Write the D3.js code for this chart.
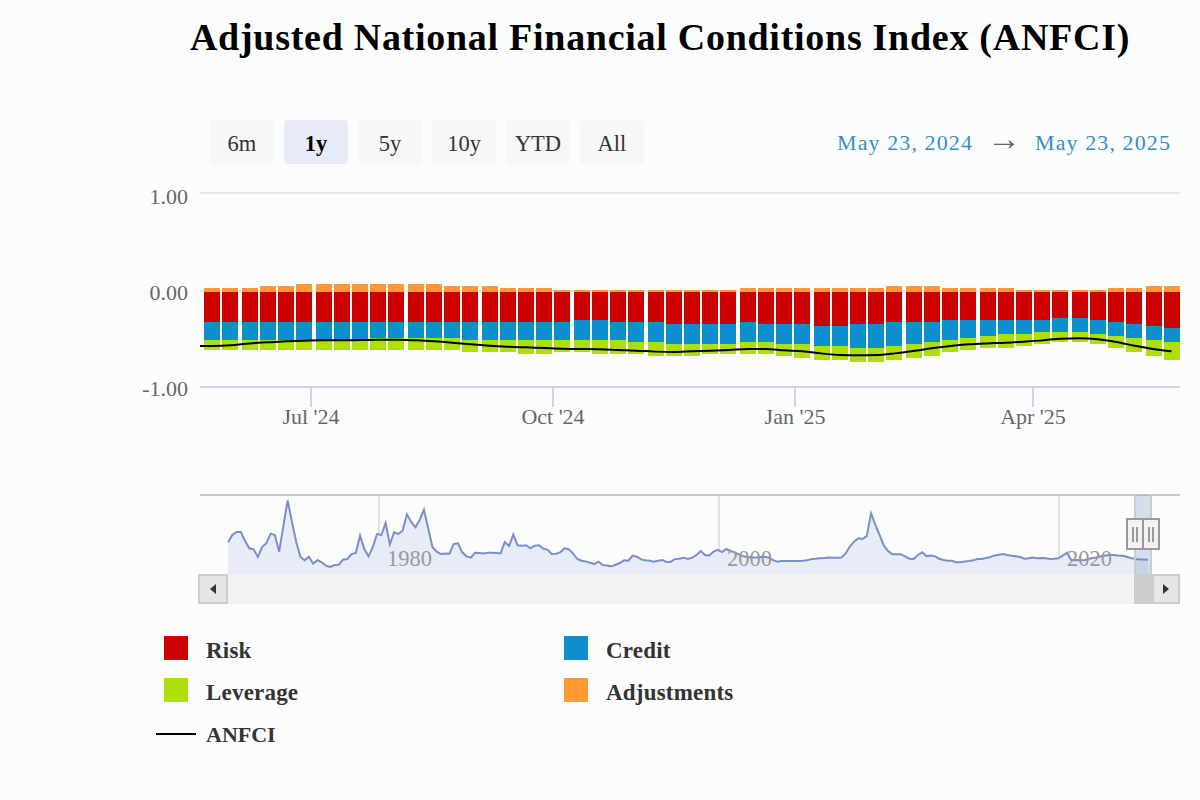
<!DOCTYPE html>
<html><head><meta charset="utf-8">
<style>
html,body{margin:0;padding:0;background:#fbfdfc;}
svg{display:block;font-family:"Liberation Serif",serif;}
</style>
<script src="https://cdn.jsdelivr.net/npm/d3@7/dist/d3.min.js"></script>
</head><body>
<svg id="c" width="1200" height="800"></svg>
<script>
const title = "Adjusted National Financial Conditions Index (ANFCI)";
const rangeButtons = ["6m","1y","5y","10y","YTD","All"];
const selectedButton = "1y";
const rangeFrom = "May 23, 2024", rangeTo = "May 23, 2025";
const firstWeek = "2024-05-24";
const seriesNames = ["Risk","Credit","Leverage","Adjustments"];
const seriesColors = ["#cc0000","#0d8ecf","#b0de09","#ff9933"];
const yTicks = [1,0,-1];
const yTickLabels = ["1.00","0.00","-1.00"];
const xTickDates = ["2024-07-01","2024-10-01","2025-01-01","2025-04-01"];
const xTickLabels = ["Jul '24","Oct '24","Jan '25","Apr '25"];
const navTickYears = [1980,2000,2020];

const risk = [-.309,-.309,-.309,-.309,-.309,-.309,-.309,-.309,-.309,-.309,-.309,-.309,-.309,-.309,-.309,-.309,-.309,-.309,-.309,-.309,
 -.289,-.289,-.309,-.309,-.309,-.33,-.33,-.33,-.33,-.309,-.33,-.33,-.33,-.351,-.351,-.33,-.33,-.309,-.309,-.309,
 -.289,-.289,-.289,-.289,-.289,-.289,-.268,-.268,-.289,-.309,-.33,-.351,-.371];
const credit = [-.186,-.186,-.186,-.186,-.186,-.186,-.186,-.186,-.186,-.165,-.165,-.165,-.165,-.165,-.186,-.186,-.186,-.186,-.186,-.186,
 -.206,-.206,-.186,-.206,-.206,-.206,-.206,-.206,-.206,-.206,-.186,-.206,-.206,-.206,-.206,-.247,-.247,-.247,-.227,-.206,
 -.206,-.186,-.165,-.144,-.144,-.124,-.144,-.144,-.144,-.144,-.144,-.144,-.144];
const leverage = [-.103,-.103,-.103,-.103,-.103,-.103,-.103,-.103,-.103,-.124,-.124,-.124,-.124,-.124,-.124,-.124,-.124,-.144,-.144,-.124,
 -.124,-.144,-.144,-.124,-.144,-.124,-.124,-.103,-.103,-.124,-.124,-.124,-.144,-.144,-.144,-.144,-.144,-.144,-.144,-.144,
 -.124,-.124,-.124,-.144,-.124,-.124,-.103,-.103,-.103,-.124,-.144,-.165,-.186];
const adjustments = [.041,.041,.041,.062,.062,.082,.082,.082,.082,.082,.082,.082,.082,.062,.062,.062,.041,.041,.041,.021,
 .021,.021,.021,.021,.021,.021,.021,.021,.021,.041,.041,.041,.041,.041,.041,.041,.041,.062,.062,.062,
 .041,.041,.041,.041,.021,.021,.021,.021,.021,.041,.041,.062,.062];
const anfciBefore = -.567;
const anfci = [-.567,-.560,-.540,-.529,-.519,-.512,-.509,-.509,-.505,-.502,-.502,-.509,-.519,-.533,-.550,-.564,-.574,-.581,-.588,-.595,
 -.598,-.601,-.608,-.615,-.625,-.629,-.622,-.615,-.608,-.598,-.598,-.612,-.622,-.643,-.660,-.663,-.660,-.643,-.619,-.591,
 -.567,-.550,-.540,-.533,-.522,-.509,-.491,-.488,-.498,-.526,-.564,-.598,-.622];

const navStartYear = 1971.12, navStepYears = 0.2505;
const navValues = [.65,1.2,1.43,1.43,.75,.2,.13,-.45,.3,.58,1.3,1.2,-.05,1.88,3.8,2.2,.7,-.45,-.7,-.43,
 -.95,-.68,-.85,-1.1,-1.2,-1.05,-1.03,-.65,-.6,-.23,-.15,1.15,.15,-.4,.3,1.28,1.2,2.1,.5,1.4,
 1.28,1.53,2.75,2.2,1.78,2.33,3.1,1.7,.3,-.05,-.23,-.18,-.2,.53,.58,-.1,-.4,-.5,-.13,-.15,
 -.18,-.13,-.13,-.15,-.18,.68,.38,1.23,.43,.4,.43,.2,
 .4,.43,.18,.1,-.23,-.2,-.1,.2,.13,-.18,-.6,-.73,-.78,-.88,-.98,-.8,-1.05,-1.08,-1.15,-1.03,
 -.9,-.7,-.73,-.35,-.43,-.63,-.7,-.73,-.8,-.73,-.68,-.83,-.8,-.6,-.58,-.5,-.6,-.5,-.3,0,
 -.3,-.33,-.05,.08,-.08,.15,0,-.1,-.25,-.4,-.45,-.48,-.48,-.45,-.43,-.5,
 -.68,-.8,-.75,-.75,-.75,-.75,-.75,-.73,-.7,-.6,-.58,-.55,-.53,-.48,-.5,-.5,-.48,-.2,.33,.7,.95,
 .9,1.13,2.83,1.95,1.2,.4,0,-.25,-.25,-.25,-.4,-.58,-.6,-.3,-.1,-.38,-.33,-.4,-.58,-.68,
 -.73,-.73,-.85,-.85,-.78,-.75,-.7,-.6,-.6,-.53,-.45,-.33,-.28,-.23,-.3,-.35,-.4,-.45,-.58,-.55,
 -.48,-.55,-.53,-.55,-.6,-.58,-.55,-.35,-.13,-.7,-.68,-.7,-.7,-.6,-.53,-.48,-.4,-.33,-.3,-.3,
 -.33,-.35,-.43,-.53,-.6,-.63,-.63,-.65];

const svg = d3.select("#c");
const DAY = 864e5;
const weekDates = risk.map((_,i)=>new Date(Date.parse(firstWeek+"T00:00:00Z")+i*7*DAY));
const lineDates = [new Date(weekDates[0].getTime()-7*DAY), ...weekDates];
const lineValues = [anfciBefore, ...anfci];

const x = d3.scaleUtc().domain([new Date("2024-05-20T00:00:00Z"),new Date("2025-05-27T00:00:00Z")]).range([200,1180]);
const y = d3.scaleLinear().domain([-1,1]).range([387.2,193.2]);
const yLabel = d3.scaleLinear().domain([-1,1]).range([396.2,204.2]);
const crispOdd = v => 2*Math.round((v-1)/2)+1;
const snapEven = v => Math.ceil(v/2)*2;

// title
svg.append("text").attr("x",660).attr("y",50).attr("text-anchor","middle")
  .attr("font-size",38).attr("font-weight","bold").attr("letter-spacing",0.72).attr("fill","#000").text(title);

// range buttons
rangeButtons.forEach((b,i)=>{
  const on = b===selectedButton, bx = 210+i*74;
  svg.append("rect").attr("x",bx).attr("y",120).attr("width",64).attr("height",44).attr("rx",4)
    .attr("fill",on?"#e6ebf5":"#f7f7f7");
  svg.append("text").attr("x",bx+32).attr("y",151).attr("text-anchor","middle").attr("font-size",22.5)
    .attr("font-weight",on?"bold":"normal").attr("fill",on?"#000":"#333").text(b);
});
const dateStyle = s=>s.attr("font-size",22).attr("fill","#3490c4").attr("y",150).attr("letter-spacing",1.1);
svg.append("text").call(dateStyle).attr("x",973).attr("text-anchor","end").text(rangeFrom);
svg.append("text").attr("x",1004).attr("y",150).attr("text-anchor","middle").attr("font-size",34).attr("fill","#666").text("→");
svg.append("text").call(dateStyle).attr("x",1171).attr("text-anchor","end").text(rangeTo);

// gridlines + y labels
yTicks.forEach((t,i)=>{
  svg.append("line").attr("x1",200).attr("x2",1180).attr("y1",crispOdd(y(t))).attr("y2",crispOdd(y(t)))
    .attr("stroke",t===-1?"#ccd6eb":"#e6e6e6").attr("stroke-width",2);
  svg.append("text").attr("x",188).attr("y",yLabel(t)).attr("text-anchor","end").attr("font-size",22)
    .attr("fill","#666").text(yTickLabels[i]);
});
// x ticks
xTickDates.forEach((d,i)=>{
  const tx = Math.round(x(new Date(d+"T00:00:00Z"))+0.1);
  svg.append("line").attr("x1",tx).attr("x2",tx).attr("y1",387).attr("y2",407).attr("stroke","#ccd6eb").attr("stroke-width",2);
  svg.append("text").attr("x",tx).attr("y",424).attr("text-anchor","middle").attr("font-size",22).attr("fill","#666").text(xTickLabels[i]);
});

// stacked bars
const table = risk.map((_,i)=>({Risk:risk[i],Credit:credit[i],Leverage:leverage[i],Adjustments:adjustments[i]}));
const stacked = d3.stack().keys(seriesNames).offset(d3.stackOffsetDiverging)(table);
stacked.forEach((layer,k)=>{
  svg.append("g").attr("fill",seriesColors[k]).selectAll("rect").data(layer).join("rect")
    .attr("x",(d,i)=>snapEven(x(weekDates[i])-7))
    .attr("width",16)
    .attr("y",d=>snapEven(y(Math.max(d[0],d[1]))))
    .attr("height",d=>snapEven(y(Math.min(d[0],d[1])))-snapEven(y(Math.max(d[0],d[1]))));
});

// ANFCI line
svg.append("clipPath").attr("id","plot").append("rect").attr("x",200).attr("y",180).attr("width",980).attr("height",220);
svg.append("g").attr("clip-path","url(#plot)").append("path").attr("transform","translate(2,0.8)")
  .datum(lineValues.map((v,i)=>[lineDates[i],v]))
  .attr("fill","none").attr("stroke","#000").attr("stroke-width",2)
  .attr("d",d3.line().x(d=>x(d[0])).y(d=>y(d[1])).curve(d3.curveMonotoneX));

// navigator
const nx = d3.scaleLinear().domain([1980,2020]).range([379,1059]);
const ny = d3.scaleLinear().domain([-1.725,4.2]).range([574,495]);
navTickYears.forEach(t=>{
  svg.append("line").attr("x1",nx(t)).attr("x2",nx(t)).attr("y1",495).attr("y2",574).attr("stroke","#e2e2e2").attr("stroke-width",2);
});
const navPts = navValues.map((v,i)=>[navStartYear+i*navStepYears,v]);
svg.append("path").datum(navPts).attr("fill","#e8ecf6").attr("stroke","none")
  .attr("d",d3.area().x(d=>nx(d[0])).y0(574).y1(d=>ny(d[1])));
svg.append("path").datum(navPts).attr("fill","none").attr("stroke","#7a8fca").attr("stroke-width",2)
  .attr("d",d3.line().x(d=>nx(d[0])).y(d=>ny(d[1])));
navTickYears.forEach(t=>{
  svg.append("text").attr("x",nx(t)+8).attr("y",566).attr("font-size",22.5).attr("fill","#999").text(t);
});
svg.append("line").attr("x1",200).attr("x2",1180).attr("y1",495).attr("y2",495).attr("stroke","#c8c8c8").attr("stroke-width",2);

// scrollbar
svg.append("rect").attr("x",228).attr("y",574).attr("width",952).attr("height",30).attr("fill","#f2f2f2");
const sel0 = 1134, sel1 = 1152;
svg.append("rect").attr("x",sel0).attr("y",574).attr("width",sel1-sel0).attr("height",30).attr("fill","#cccccc");
svg.append("rect").attr("x",sel0).attr("y",495).attr("width",sel1-sel0).attr("height",79).attr("fill","#6685c2").attr("fill-opacity",.25);
[sel0+1,sel1-1].forEach(v=>svg.append("line").attr("x1",v).attr("x2",v).attr("y1",495).attr("y2",574).attr("stroke","#cccccc").attr("stroke-width",2));
[[199,227,1],[1153,1179,-1]].forEach(([a,b,dir])=>{
  svg.append("rect").attr("x",a).attr("y",575).attr("width",b-a).attr("height",28).attr("fill","#e6e6e6").attr("stroke","#cccccc").attr("stroke-width",2);
  const cx=(a+b)/2;
  svg.append("path").attr("fill","#333").attr("d",`M${cx+3*dir},584 L${cx+3*dir},594 L${cx-3*dir},589 Z`);
});
[1127,1143].forEach(hx=>{
  svg.append("rect").attr("x",hx).attr("y",519).attr("width",16).attr("height",30).attr("fill","#f2f2f2").attr("stroke","#999").attr("stroke-width",2);
  [hx+6,hx+10].forEach(v=>svg.append("line").attr("x1",v).attr("x2",v).attr("y1",527).attr("y2",542).attr("stroke","#999").attr("stroke-width",2));
});

// legend
const legendX=[164,564], legendY=[636,678];
seriesNames.forEach((n,i)=>{
  const lx=legendX[i%2], ly=legendY[Math.floor(i/2)];
  svg.append("rect").attr("x",lx).attr("y",ly).attr("width",24).attr("height",24).attr("fill",seriesColors[i]);
  svg.append("text").attr("x",lx+42).attr("y",ly+22).attr("font-size",23).attr("font-weight","bold").attr("letter-spacing",0.2).attr("fill","#333").text(n);
});
svg.append("line").attr("x1",156).attr("x2",196).attr("y1",734).attr("y2",734).attr("stroke","#000").attr("stroke-width",2);
svg.append("text").attr("x",206).attr("y",742).attr("font-size",22).attr("font-weight","bold").attr("fill","#333").text("ANFCI");
</script>
</body></html>
